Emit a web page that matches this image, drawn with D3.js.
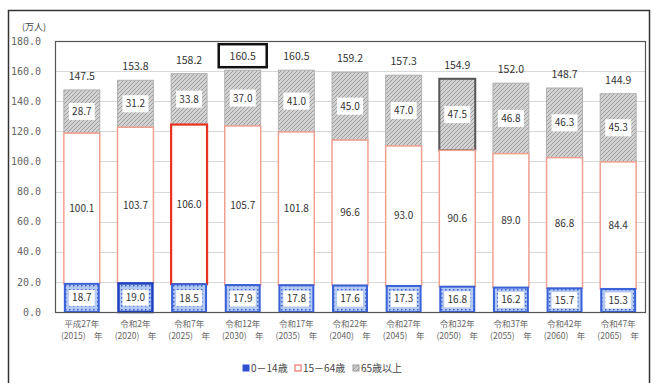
<!DOCTYPE html>
<html><head><meta charset="utf-8">
<script src="https://cdn.jsdelivr.net/npm/d3@7"></script>
<style>body{margin:0;background:#fff}svg{display:block}text{font-family:"Noto Sans CJK JP","DejaVu Sans",sans-serif}</style>
</head><body><svg id="c" width="652" height="383"></svg>
<script>
const categories = [["平成27年","(2015)　年"],["令和2年","(2020)　年"],["令和7年","(2025)　年"],["令和12年","(2030)　年"],["令和17年","(2035)　年"],["令和22年","(2040)　年"],["令和27年","(2045)　年"],["令和32年","(2050)　年"],["令和37年","(2055)　年"],["令和42年","(2060)　年"],["令和47年","(2065)　年"]];
const age0_14 = [18.7,19.0,18.5,17.9,17.8,17.6,17.3,16.8,16.2,15.7,15.3];
const age15_64 = [100.1,103.7,106.0,105.7,101.8,96.6,93.0,90.6,89.0,86.8,84.4];
const age65 = [28.7,31.2,33.8,37.0,41.0,45.0,47.0,47.5,46.8,46.3,45.3];
const totals = [147.5,153.8,158.2,160.5,160.5,159.2,157.3,154.9,152.0,148.7,144.9];
const yTicks = [0,20,40,60,80,100,120,140,160,180];
const legendLabels = ["0－14歳","15－64歳","65歳以上"];

const svg = d3.select("#c");
const defs = svg.append("defs");
const hatch = defs.append("pattern").attr("id","hatch").attr("patternUnits","userSpaceOnUse").attr("width",4).attr("height",4);
hatch.append("rect").attr("width",4).attr("height",4).attr("fill","#d2d2d2");
hatch.append("path").attr("d","M-1,1 l2,-2 M0,4 l4,-4 M3,5 l2,-2").attr("stroke","#9a9a9a").attr("stroke-width",0.9);
const dots = defs.append("pattern").attr("id","dots").attr("patternUnits","userSpaceOnUse").attr("width",4).attr("height",4);
dots.append("rect").attr("width",4).attr("height",4).attr("fill","#b4c9f2");
dots.append("rect").attr("x",1).attr("y",1).attr("width",1.5).attr("height",1.5).attr("fill","#3a62d8");

// outer frame
svg.append("rect").attr("x",8.5).attr("y",10.5).attr("width",641).attr("height",380).attr("fill","none").attr("stroke","#333").attr("stroke-width",1.5);

const L=55,R=645,T=41,B=312;
const x = d3.scaleBand().domain(d3.range(categories.length)).range([L,R]).paddingInner(0.33).paddingOuter(0.165);
const y = d3.scaleLinear().domain([0,180]).range([B,T]);

// grid
svg.append("g").selectAll("line").data(yTicks.filter(d=>d>0)).join("line")
 .attr("x1",L).attr("x2",R).attr("y1",d=>Math.round(y(d))+0.5).attr("y2",d=>Math.round(y(d))+0.5).attr("stroke","#d8d8d8");

// y axis labels
const yAxis = d3.axisLeft(y).tickValues(yTicks).tickFormat(d3.format(".1f")).tickSize(0).tickPadding(14);
const ga = svg.append("g").attr("transform",`translate(${L},0)`).call(yAxis);
ga.select(".domain").remove();
ga.selectAll("text").attr("font-size",10).attr("fill","#666").style("font-family","'DejaVu Sans Mono','Noto Sans CJK JP',monospace");
svg.append("text").attr("x",22).attr("y",30).attr("font-size",9).attr("fill","#444").text("(万人)");

const bw = x.bandwidth();
const g = svg.append("g");
categories.forEach((c,i)=>{
  const x0 = x(i);
  const y0 = y(0), y1 = y(age0_14[i]), y2 = y(age0_14[i]+age15_64[i]), y3 = y(age0_14[i]+age15_64[i]+age65[i]);
  // 65+
  g.append("rect").attr("x",x0).attr("y",y3).attr("width",bw).attr("height",y2-y3)
   .attr("fill","url(#hatch)").attr("stroke",i===7?"#555":"#b0b0b0").attr("stroke-width",i===7?2:1);
  // 15-64
  g.append("rect").attr("x",x0).attr("y",y2).attr("width",bw).attr("height",y1-y2)
   .attr("fill","#fff").attr("stroke",i===2?"#e8321e":"#f0a090").attr("stroke-width",i===2?2.2:1.5);
  // 0-14
  g.append("rect").attr("x",x0+1).attr("y",y1).attr("width",bw-2).attr("height",y0-y1)
   .attr("fill","url(#dots)").attr("stroke",i===1?"#1c3fc0":"#3a62d8").attr("stroke-width",i===1?2.5:2);
  const bx = x0+bw/2;
  // 0-14 box
  g.append("rect").attr("x",bx-bw/2+5).attr("y",(y0+y1)/2-8).attr("width",bw-10).attr("height",16).attr("fill","#fff");
  g.append("text").attr("x",bx).attr("y",(y0+y1)/2+3.5).attr("text-anchor","middle").attr("font-size",10).attr("fill","#333").text(age0_14[i].toFixed(1));
  // 15-64
  g.append("text").attr("x",bx).attr("y",(y1+y2)/2+3.5).attr("text-anchor","middle").attr("font-size",10).attr("fill","#333").text(age15_64[i].toFixed(1));
  // 65+
  g.append("rect").attr("x",bx-13).attr("y",(y2+y3)/2-8.5).attr("width",26).attr("height",17).attr("fill","#fff");
  g.append("text").attr("x",bx).attr("y",(y2+y3)/2+3.5).attr("text-anchor","middle").attr("font-size",10).attr("fill","#333").text(age65[i].toFixed(1));
  // total
  if(i===3){
    g.append("rect").attr("x",bx-24).attr("y",y3-26).attr("width",48).attr("height",23).attr("fill","#fff").attr("stroke","#111").attr("stroke-width",2.5);
  }
  g.append("text").attr("x",bx).attr("y",y3-10).attr("text-anchor","middle").attr("font-size",10.5).attr("fill","#333").text(totals[i].toFixed(1));
  // x labels
  c.forEach((t,k)=>{
    svg.append("text").attr("x",bx).attr("y",B+15+k*12).attr("text-anchor","middle").attr("font-size",8.5).attr("fill","#666").text(t);
  });
});

// plot border
svg.append("rect").attr("x",L+0.5).attr("y",T+0.5).attr("width",R-L).attr("height",B-T).attr("fill","none").attr("stroke","#555").attr("stroke-width",1.2);

// legend
const lg = svg.append("g").attr("transform","translate(243,372)");
const sw = [{f:"#3050d0",s:"#3050d0"},{f:"#fff",s:"#e8604c"},{f:"url(#hatch)",s:"#999"}];
const lx = [0,52,110];
legendLabels.forEach((t,k)=>{
  lg.append("rect").attr("x",lx[k]).attr("y",-7).attr("width",6).attr("height",6).attr("fill",sw[k].f).attr("stroke",sw[k].s).attr("stroke-width",1);
  lg.append("text").attr("x",lx[k]+8).attr("y",0).attr("font-size",10).attr("fill","#444").text(t);
});
</script></body></html>
